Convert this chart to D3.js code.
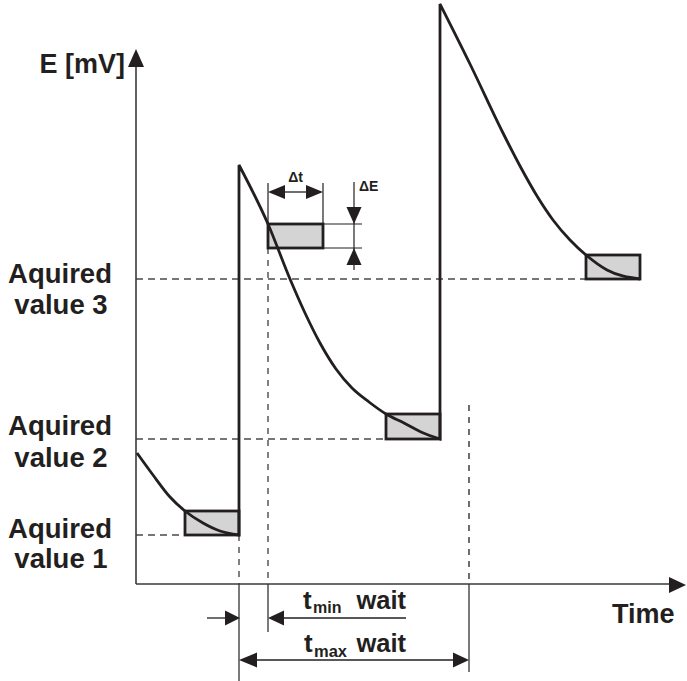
<!DOCTYPE html>
<html><head><meta charset="utf-8">
<script src="https://cdn.jsdelivr.net/npm/d3@7"></script>
<style>html,body{margin:0;padding:0;background:#fff;}svg{display:block;}</style>
</head><body>
<svg id="c" width="687" height="681"></svg>
<script>
// ---- data (arbitrary units: time t, potential E) ----
const decay1T = [0.1, 1.7, 3.4, 4.9, 6.7, 8.4, 10.3];
const decay1E = [13.1, 10.9, 8.7, 7.3, 6.1, 5.3, 4.9];
const decay2T = [10.3, 13.2, 15.4, 16.9, 18.4, 20.0, 21.6, 23.3, 25.0, 26.8, 28.5, 30.4];
const decay2E = [41.9, 36.0, 30.5, 27.1, 24.1, 21.5, 19.6, 18.2, 17.0, 16.1, 15.2, 14.5];
const decay3T = [30.4, 33.4, 36.7, 38.4, 40.1, 41.7, 43.4, 45.0, 47.1, 50.4];
const decay3E = [58.0, 52.0, 45.1, 41.8, 38.8, 36.4, 34.4, 32.9, 31.4, 30.5];
const boxT0 = [4.9, 13.2, 25.0, 45.0];
const boxT1 = [10.3, 18.7, 30.4, 50.4];
const boxE0 = [4.9, 33.6, 14.5, 30.5];
const boxE1 = [7.3, 36.0, 17.0, 32.9];
const acquiredE = [4.9, 14.5, 30.5];
const acquiredT = [4.9, 25.0, 45.0];
const acquiredLine1 = ["Aquired", "Aquired", "Aquired"];
const acquiredLine2 = ["value 1", "value 2", "value 3"];
const tDose = 10.3, tMin = 13.2, tMax = 33.3, tMaxTopE = 17.9;

const svg = d3.select("#c");
const x = d3.scaleLinear().domain([0, 55]).range([136, 686]);
const y = d3.scaleLinear().domain([0, 58]).range([584, 4]);
const INK = "#231f20", FONT = "'Liberation Sans', Arial, sans-serif";

function tri(tip, dir, len, hw) {
  const [a, b] = tip; let p;
  if (dir === "up") p = [[a, b], [a - hw, b + len], [a + hw, b + len]];
  if (dir === "down") p = [[a, b], [a - hw, b - len], [a + hw, b - len]];
  if (dir === "left") p = [[a, b], [a + len, b - hw], [a + len, b + hw]];
  if (dir === "right") p = [[a, b], [a - len, b - hw], [a - len, b + hw]];
  svg.append("path").attr("d", "M" + p.map(q => q.join(",")).join("L") + "Z").attr("fill", INK);
}
function line(x1, y1, x2, y2, w, col, dash) {
  const l = svg.append("line").attr("x1", x1).attr("y1", y1).attr("x2", x2).attr("y2", y2)
    .attr("stroke", col || INK).attr("stroke-width", w);
  if (dash) l.attr("stroke-dasharray", dash);
  return l;
}
function text(s, xx, yy, size, anchor) {
  return svg.append("text").attr("x", xx).attr("y", yy).attr("font-family", FONT)
    .attr("font-weight", "bold").attr("font-size", size).attr("fill", INK)
    .attr("text-anchor", anchor || "start").text(s);
}

// ---- dashed guides ----
const DASH = "7,5", GR = "#4a4a4a";
acquiredE.forEach((e, i) => line(x(0), y(e), x(acquiredT[i]), y(e), 1.4, GR, DASH));
line(x(tDose), y(decay1E[decay1E.length - 1]), x(tDose), y(0), 1.4, GR, "6,6");
line(x(tMin), y(boxE0[1]), x(tMin), y(0), 1.4, GR, "6,6");
line(x(tMax), y(tMaxTopE), x(tMax), y(0), 1.6, GR, "6,6");

// ---- axes ----
line(x(0), y(0), x(0), 62, 1.6, "#3a3a3a");
line(x(0), y(0), 672, y(0), 1.6, "#3a3a3a");
tri([x(0), 49], "up", 18, 8);
tri([686, y(0) + 1], "right", 17, 8);

// ---- boxes ----
boxT0.forEach((t0, i) => {
  svg.append("rect").attr("x", x(t0)).attr("y", y(boxE1[i]))
    .attr("width", x(boxT1[i]) - x(t0)).attr("height", y(boxE0[i]) - y(boxE1[i]))
    .attr("fill", "#d4d4d5").attr("stroke", INK).attr("stroke-width", 2.8);
});

// ---- trace ----
const gen = d3.line().x(d => x(d[0])).y(d => y(d[1])).curve(d3.curveMonotoneX);
const seg1 = decay1T.map((t, i) => [t, decay1E[i]]);
const seg2 = decay2T.map((t, i) => [t, decay2E[i]]);
const seg3 = decay3T.map((t, i) => [t, decay3E[i]]);
const d = gen(seg1) + gen(seg2).replace(/^M/, "L") + gen(seg3).replace(/^M/, "L");
svg.append("path").attr("d", d).attr("fill", "none").attr("stroke", INK)
  .attr("stroke-width", 2.8).attr("stroke-linejoin", "miter");

// ---- Δt / ΔE dimensioning ----
const bx0 = x(boxT0[1]), bx1 = x(boxT1[1]), by0 = y(boxE1[1]), by1 = y(boxE0[1]);
line(bx0, 183, bx0, by0, 1.2);
line(bx1, 183, bx1, by0, 1.2);
line(bx0 + 14, 192, bx1 - 14, 192, 1.3);
tri([bx0, 192], "left", 17, 7);
tri([bx1, 192], "right", 17, 7);
text("Δt", (bx0 + bx1) / 2, 182, 14, "middle");
line(bx1, by0, bx1 + 39, by0, 1.2);
line(bx1, by1, bx1 + 39, by1, 1.2);
line(bx1 + 31, 182, bx1 + 31, 270, 1.2);
tri([bx1 + 31, by0], "down", 17, 7.5);
tri([bx1 + 31, by1], "up", 17, 7.5);
text("ΔE", bx1 + 36, 191, 14, "start");

// ---- wait-time dimensioning ----
line(x(tDose), y(0), x(tDose), 681, 1.3, "#333");
line(x(tMin), y(0), x(tMin), 632, 1.3, "#333");
line(x(tMax), y(0), x(tMax), 672, 1.3, "#333");
line(207, 618, x(tDose) - 8, 618, 1.3);
tri([x(tDose) + 1, 618], "right", 15, 7.5);
line(x(tMin) + 10, 618, 406, 618, 1.3);
tri([x(tMin), 618], "left", 16, 7.5);
line(x(tDose) + 10, 660, x(tMax) - 10, 660, 1.3);
tri([x(tDose), 660], "left", 18, 7.5);
tri([x(tMax), 660], "right", 16, 7.5);

text("t", 303, 609, 26);
text("min", 313, 613, 16);
text("wait", 406, 609, 25.5, "end");
text("t", 304, 652, 26);
text("max", 314, 657, 16.5);
text("wait", 406, 652, 25.5, "end");

// ---- labels ----
text("E [mV]", 125, 73, 27, "end");
text("Time", 612, 623, 27, "start");
const base1 = [538, 435, 283], base2 = [568, 467, 314];
acquiredE.forEach((e, i) => {
  text(acquiredLine1[i], 60, base1[i], 27.5, "middle");
  text(acquiredLine2[i], 61, base2[i], 27.5, "middle");
});
</script>
</body></html>
